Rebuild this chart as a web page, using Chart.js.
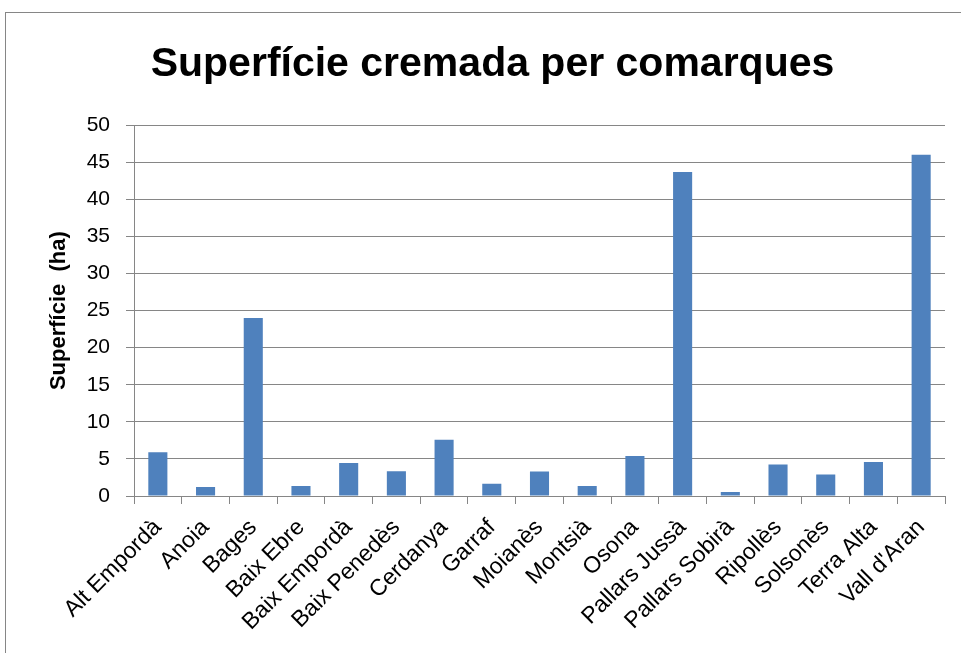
<!DOCTYPE html>
<html>
<head>
<meta charset="utf-8">
<script src="https://cdn.jsdelivr.net/npm/chart.js@4"></script>
<style>
  html, body { margin: 0; padding: 0; background: #fff; overflow: hidden; }
  #wrap { width: 961px; height: 653px; position: relative; }
</style>
</head>
<body>
<div id="wrap"><canvas id="chart" width="961" height="653"></canvas></div>
<script>
// Superfície cremada per comarques (ha)
const comarques = ['Alt Empordà', 'Anoia', 'Bages', 'Baix Ebre', 'Baix Empordà', 'Baix Penedès',
    'Cerdanya', 'Garraf', 'Moianès', 'Montsià', 'Osona', 'Pallars Jussà', 'Pallars Sobirà',
    'Ripollès', 'Solsonès', 'Terra Alta', "Vall d'Aran"];
const superficie = [5.9, 1.2, 24.0, 1.35, 4.45, 3.35, 7.6, 1.65, 3.3, 1.35, 5.4, 43.7, 0.55,
    4.25, 2.9, 4.6, 46.0];
const yTicks = [0, 5, 10, 15, 20, 25, 30, 35, 40, 45, 50];

const font = "'Liberation Sans', Arial, sans-serif";

// outer frame around the chart
const framePlugin = {
    id: 'frame',
    beforeDraw(chart) {
        const ctx = chart.ctx;
        ctx.save();
        ctx.fillStyle = '#fff';
        ctx.fillRect(0, 0, chart.width, chart.height);
        ctx.strokeStyle = '#868686';
        ctx.lineWidth = 1;
        ctx.strokeRect(5.5, 12.5, 1000, 700);
        ctx.restore();
    }
};

new Chart(document.getElementById('chart').getContext('2d'), {
    type: 'bar',
    data: {
        labels: comarques,
        datasets: [{
            label: 'Superfície (ha)',
            data: superficie,
            backgroundColor: '#4F81BD',
            borderWidth: 0,
            barPercentage: 0.4,
            categoryPercentage: 1.0
        }]
    },
    plugins: [framePlugin],
    options: {
        responsive: false,
        animation: false,
        layout: { padding: { left: 40, right: 16, top: 0, bottom: 0 } },
        plugins: {
            legend: { display: false },
            tooltip: { enabled: false },
            title: {
                display: true,
                text: 'Superfície cremada per comarques',
                color: '#000',
                font: { family: font, size: 41, weight: 'bold' },
                padding: { top: 40, bottom: 36 }
            }
        },
        scales: {
            y: {
                min: 0,
                max: 50,
                afterBuildTicks(scale) { scale.ticks = yTicks.map(v => ({ value: v })); },
                afterFit(scale) { scale.width = 94; },
                ticks: {
                    color: '#000',
                    font: { family: font, size: 21 },
                    padding: 16
                },
                grid: { color: '#868686', lineWidth: 1, tickLength: 8 },
                border: { color: '#868686', width: 1 },
                title: {
                    display: true,
                    text: 'Superfície  (ha)',
                    color: '#000',
                    font: { family: font, size: 22, weight: 'bold' },
                    padding: { top: 6, bottom: 4 }
                }
            },
            x: {
                afterFit(scale) { scale.height = 157; },
                ticks: {
                    color: '#000',
                    font: { family: font, size: 23 },
                    minRotation: 45,
                    maxRotation: 45,
                    autoSkip: false,
                    padding: 10
                },
                grid: { drawOnChartArea: false, color: '#868686', tickLength: 8, offset: true },
                border: { color: '#868686', width: 1 }
            }
        }
    }
});
</script>
</body>
</html>
